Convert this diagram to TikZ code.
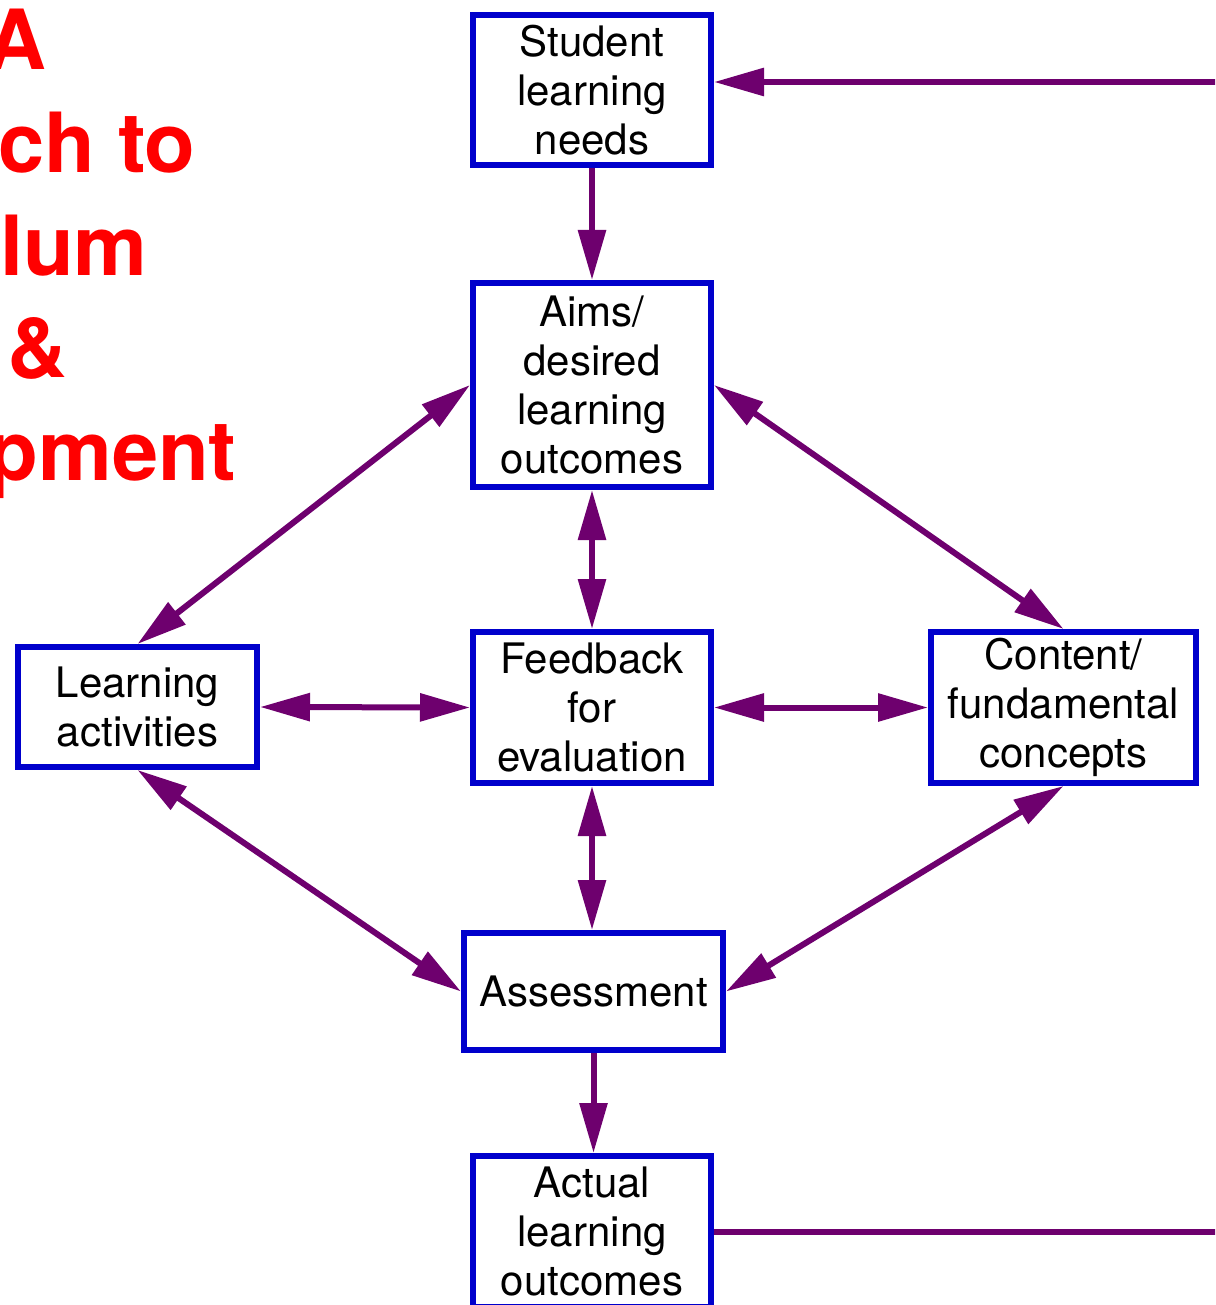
\documentclass[tikz,border=0pt]{standalone}
\usepackage{fontspec}
\setmainfont{TeX Gyre Heros}
\usetikzlibrary{arrows.meta}

\definecolor{linkpurple}{RGB}{110,0,110}
\definecolor{boxblue}{RGB}{0,0,204}

\tikzset{
  box/.style={draw=boxblue, line width=3pt, fill=white, align=center,
    inner sep=0pt, font=\fontsize{21}{24.5}\selectfont},
  link/.style={draw=linkpurple, line width=3pt,
    >={Triangle[length=25pt,width=13.5pt]}},
  title/.style={text=red, inner sep=0pt, anchor=base east,
    font=\fontsize{41.5}{51}\selectfont\bfseries}
}

\begin{document}
\begin{tikzpicture}[x=0.5pt, y=-0.5pt]
    \useasboundingbox (0,0) rectangle (1215,1305);
    \clip (0,0) rectangle (1215,1305);

    % Title (cut off at the left edge)
    \node[title] (t1) at (47,70) {A};
    \node[title] (t2) at (196,173) {ch to};
    \node[title] (t3) at (148,275) {lum};
    \node[title] (t4) at (68,377) {\&};
    \node[title] (t5) at (237,480) {pment};

    % Boxes
    \node[box, minimum width=119pt, minimum height=75pt] (needs) at (592,90) {Student\\learning\\needs};
    \node[box, minimum width=119pt, minimum height=102pt] (aims) at (592,385) {Aims/\\desired\\learning\\outcomes};
    \node[box, minimum width=119.5pt, minimum height=60pt] (activities) at (137.5,707) {Learning\\activities};
    \node[box, minimum width=119pt, minimum height=75.5pt] (feedback) at (592,707.5) {Feedback\\for\\evaluation};
    \node[box, minimum width=132.5pt, minimum height=75.5pt] (content) at (1063.5,707.5) {Content/\\fundamental\\concepts};
    \node[box, minimum width=129.5pt, minimum height=58.5pt] (assess) at (593.5,991.5) {Assessment};
    \node[box, minimum width=119pt, minimum height=75.5pt] (actual) at (592,1231.5) {Actual\\learning\\outcomes};

    % Loose ends at the right edge
    \coordinate (loopin) at (1230,82);
    \coordinate (loopout) at (1230,1231.5);

    % Links
    \draw[link, ->] (loopin) -- (loopin -| needs.east);
    \draw[link, ->] (needs.south) -- (aims.north);
    \draw[link, <->] (aims.west) -- (activities.north);
    \draw[link, <->] (aims.east) -- (content.north);
    \draw[link, <->] (aims.south) -- (feedback.north);
    \draw[link, <->] (activities.east) -- (feedback.west);
    \draw[link, <->] (feedback.east) -- (content.west);
    \draw[link, <->] (activities.south) -- (assess.west);
    \draw[link, <->] (content.south) -- (assess.east);
    \draw[link, <->] (feedback.south) -- (feedback.south |- assess.north);
    \draw[link, ->] (assess.south) -- (assess.south |- actual.north);
    \draw[link] (actual.east) -- (loopout);
\end{tikzpicture}
\end{document}
